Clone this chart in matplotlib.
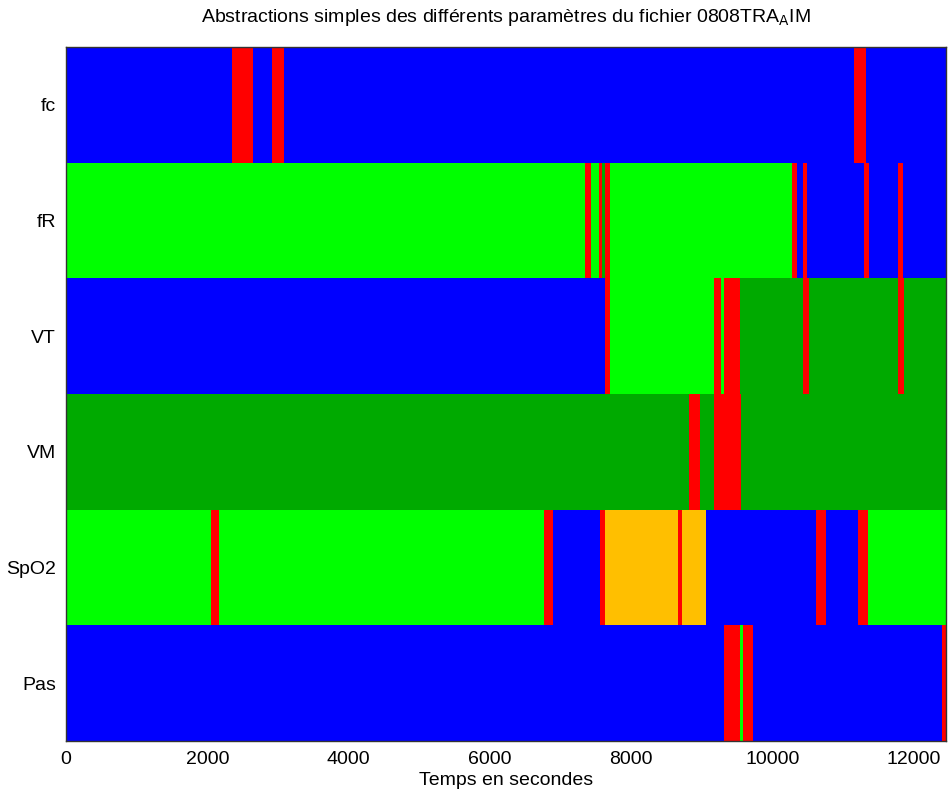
import numpy as np
import matplotlib.pyplot as plt

plt.rcParams['font.family'] = ['Liberation Sans', 'DejaVu Sans']

params = ['fc', 'fR', 'VT', 'VM', 'SpO2', 'Pas']
t_end = 12460

# bornes (s) et etat de chaque segment, par parametre
fc_edges = [0, 2347, 2653, 2918, 3084, 11161, 11331, t_end]
fc_states = ['B', 'R', 'B', 'R', 'B', 'R', 'B']

fR_edges = [0, 7351, 7436, 7540, 7588, 7635, 7701, 10279, 10354, 10429, 10496,
            11303, 11374, 11775, 11856, t_end]
fR_states = ['G', 'R', 'G', 'R', 'D', 'R', 'G', 'R', 'B', 'R', 'B', 'R', 'B', 'R', 'B']

VT_edges = [0, 7635, 7705, 9178, 9278, 9320, 9537, 10429, 10514, 11775, 11865, t_end]
VT_states = ['B', 'R', 'G', 'R', 'G', 'R', 'D', 'R', 'D', 'R', 'D']

VM_edges = [0, 8824, 8976, 9174, 9561, t_end]
VM_states = ['D', 'R', 'D', 'R', 'D']

SpO2_edges = [0, 2054, 2167, 6775, 6898, 7564, 7635, 8664, 8721, 9065, 10619, 10765,
              11208, 11356, t_end]
SpO2_states = ['G', 'R', 'G', 'R', 'B', 'R', 'O', 'R', 'O', 'B', 'R', 'B', 'R', 'G']

Pas_edges = [0, 9320, 9537, 9589, 9721, 12398, t_end]
Pas_states = ['B', 'R', 'G', 'R', 'B', 'R']

colors = {'B': '#0000ff', 'R': '#ff0000', 'G': '#00ff00', 'D': '#00aa00', 'O': '#ffbf00'}

rows = [(fc_edges, fc_states), (fR_edges, fR_states), (VT_edges, VT_states),
        (VM_edges, VM_states), (SpO2_edges, SpO2_states), (Pas_edges, Pas_states)]

fig = plt.figure(figsize=(9.51, 7.97), dpi=100)
ax = fig.add_axes([66 / 951, 1 - 741 / 797, 880 / 951, 694 / 797])

for i, (edges, states) in enumerate(rows):
    e = np.array(edges)
    ax.barh(np.full(len(states), i), np.diff(e), left=e[:-1], height=1.0,
            color=[colors[s] for s in states], linewidth=0)

ax.set_xlim(0, t_end)
ax.set_ylim(len(params) - 0.5, -0.5)
ax.set_yticks(range(len(params)))
ax.set_yticklabels(params)
ax.set_xticks(np.arange(0, 12001, 2000))
ax.tick_params(length=0, labelsize=14, pad=7)
for sp in ax.spines.values():
    sp.set_linewidth(1.0)
    sp.set_color('#333333')

ax.set_xlabel('Temps en secondes', fontsize=14, labelpad=3)
ax.set_title('Abstractions simples des différents paramètres du fichier 0808TRA$_\\mathrm{A}$IM',
             fontsize=14, pad=18)

fig.savefig('out.png', dpi=100)
